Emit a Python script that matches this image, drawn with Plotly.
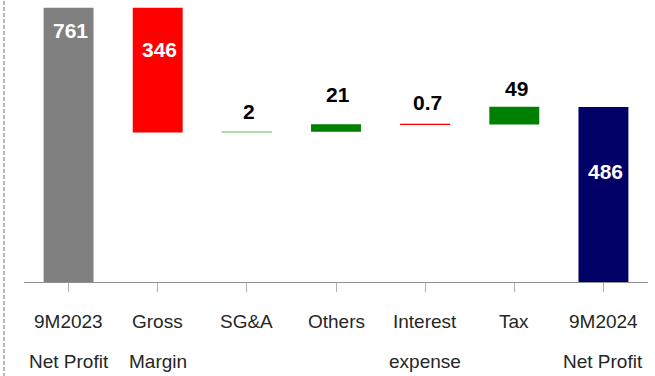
import plotly.graph_objects as go

# Net profit bridge, 9M2023 -> 9M2024
label_line1 = ["9M2023", "Gross", "SG&A", "Others", "Interest", "Tax", "9M2024"]
label_line2 = ["Net Profit", "Margin", "", "", "expense", "", "Net Profit"]
start_value = 761
changes = [-346, 2, 21, -0.7, 49]
end_value = 486

bar_colors = ["#808080", "#FF0000", "#A9D5A9", "#008000", "#FF0000", "#008000", "#000066"]
bar_outline = [0, 0, 1, 0, 1, 0, 0]
text_colors = ["white", "white", "black", "black", "black", "black", "white"]
text_shift = [-23, -42, 20, 30, 22, 18, -65]

cats = list(range(len(label_line1)))

bases, heights, tops, values = [0], [start_value], [start_value], [start_value]
running = start_value
for v in changes:
    lo, hi = min(running, running + v), max(running, running + v)
    bases.append(lo)
    heights.append(hi - lo)
    tops.append(hi)
    values.append(abs(v))
    running += v
bases.append(0)
heights.append(end_value)
tops.append(end_value)
values.append(end_value)

fig = go.Figure(
    go.Bar(
        x=cats,
        y=heights,
        base=bases,
        marker=dict(color=bar_colors, line=dict(color=bar_colors, width=bar_outline)),
        width=0.56,
        hoverinfo="skip",
    )
)

for i, (t, v) in enumerate(zip(tops, values)):
    fig.add_annotation(
        x=cats[i], y=t, yshift=text_shift[i], xshift=2, text=f"<b>{v:g}</b>",
        showarrow=False, yanchor="middle",
        font=dict(family="Liberation Sans, Arial", size=21, color=text_colors[i]),
    )
    fig.add_annotation(
        x=cats[i], y=0, yref="y", yshift=-39, text=label_line1[i],
        showarrow=False, yanchor="middle",
        font=dict(family="Liberation Sans, Arial", size=19, color="#262626"),
    )
    if label_line2[i]:
        fig.add_annotation(
            x=cats[i], y=0, yref="y", yshift=-79, text=label_line2[i],
            showarrow=False, yanchor="middle",
            font=dict(family="Liberation Sans, Arial", size=19, color="#262626"),
        )

# dashed frame edge on the left
fig.add_shape(
    type="line", xref="paper", yref="paper",
    x0=-20 / 624, x1=-20 / 624, y0=-95 / 281, y1=1 + 1 / 281,
    line=dict(color="#A0A0A0", width=1.5, dash="4px,2px"),
)

fig.update_layout(
    width=655, height=376,
    margin=dict(l=24, r=7, t=1, b=94),
    paper_bgcolor="white", plot_bgcolor="white",
    showlegend=False,
    xaxis=dict(
        range=[-0.5, len(cats) - 0.5], showticklabels=False,
        showline=True, linecolor="#909090", linewidth=1,
        ticks="outside", tickson="boundaries", ticklen=9, tickcolor="#B0B0B0",
        tickmode="array", tickvals=cats,
        showgrid=False, zeroline=False, fixedrange=True,
    ),
    yaxis=dict(range=[0, 780], visible=False, fixedrange=True),
)

fig.write_html("out.html")
